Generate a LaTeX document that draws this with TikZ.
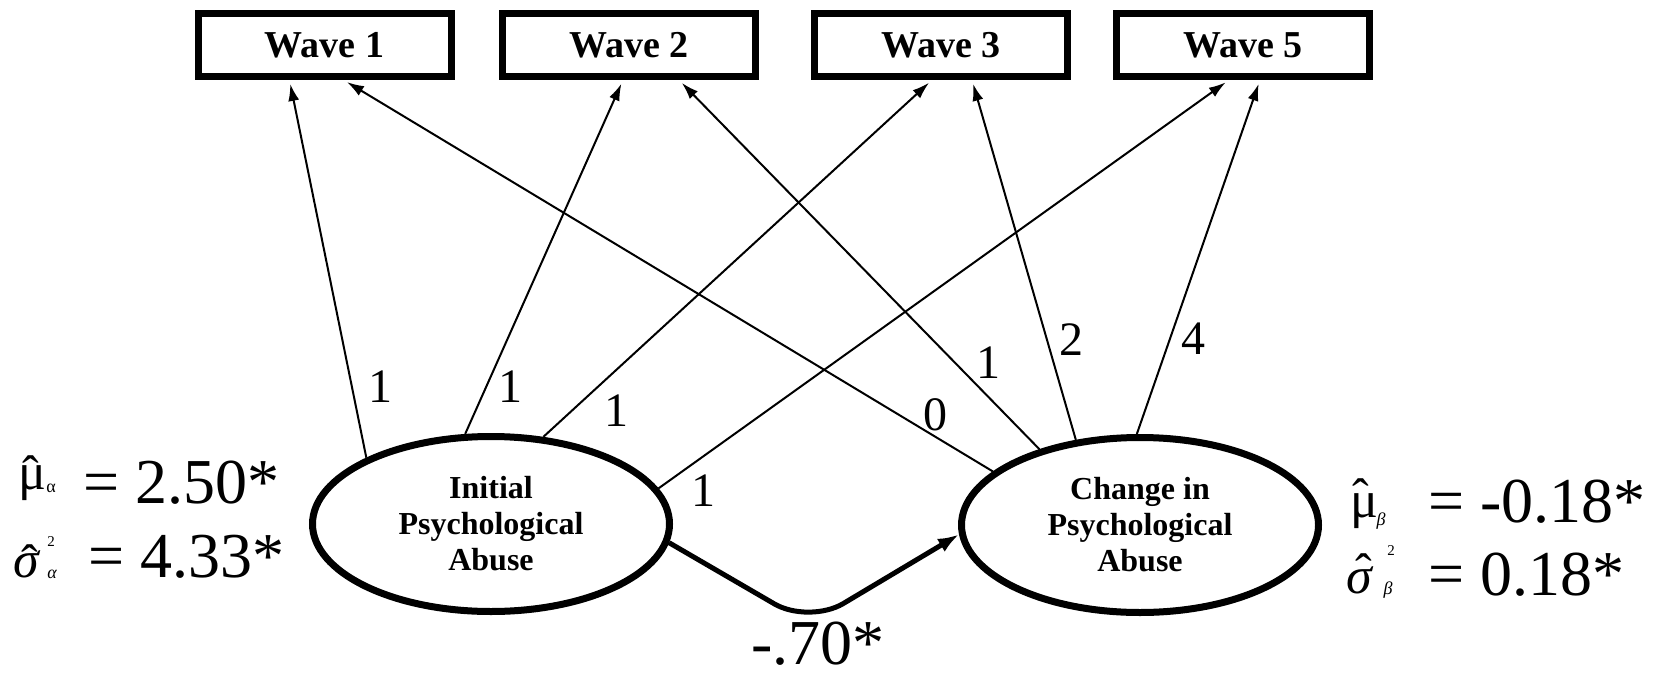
\documentclass[tikz,border=0pt]{standalone}
\usepackage{fontspec}
\setmainfont{Liberation Serif}
\usetikzlibrary{arrows.meta,shapes.geometric}
\newcommand{\fsz}[1]{\fontsize{#1}{#1}\selectfont}
% symbol with a circumflex placed at a horizontal offset and raised by a given amount
\newcommand{\hatsym}[3]{\makebox[0pt][l]{\hspace{#1}\makebox[0pt]{\raisebox{#2}{\upshape\fsz{50}ˆ}}}#3}
\begin{document}
\begin{tikzpicture}[x=1pt,y=-1pt,
  wavebox/.style={draw, line width=7pt, minimum width=253pt, minimum height=63pt, inner sep=0pt, font=\bfseries\fsz{38}},
  latent/.style={draw, ellipse, line width=7pt, minimum width=357pt, minimum height=175pt, inner sep=0pt, align=center, font=\bfseries\fontsize{32}{36}\selectfont},
  load/.style={line width=2pt, -{Latex[length=17pt,width=11pt]}, shorten >=4pt},
  regr/.style={line width=5pt, -{Latex[length=21pt,width=15pt]}, rounded corners=40pt},
  coef/.style={font=\fsz{48}, inner sep=0pt},
  stat/.style={font=\fsz{64}, inner sep=0pt, anchor=base west},
  sym/.style={font=\fsz{52}, inner sep=0pt, anchor=base west},
  idx/.style={font=\fsz{18}, inner sep=0pt},
  sup/.style={font=\fsz{15}, inner sep=0pt},
]
\useasboundingbox (0,0) rectangle (1656,674);

% observed waves
\node[wavebox] (W1) at (324.5,45) {Wave 1};
\node[wavebox] (W2) at (629,45) {Wave 2};
\node[wavebox] (W3) at (941,45) {Wave 3};
\node[wavebox] (W5) at (1243,45) {Wave 5};

% latent factors
\node[latent] (L) at (491,524) {Initial\\Psychological\\Abuse};
\node[latent] (R) at (1140,525) {Change in\\Psychological\\Abuse};

% loadings of intercept
\draw[load] (L.152) -- ([xshift=-35pt]W1.south);
\draw[load] (L.106) -- ([xshift=-6pt]W2.south);
\draw[load] (L.59) -- ([xshift=-9pt]W3.south);
\draw[load] (L.12) -- ([xshift=-14pt]W5.south);
% loadings of slope
\draw[load] (R.160) -- ([xshift=19pt]W1.south);
\draw[load] (R.143) -- ([xshift=50pt]W2.south);
\draw[load] (R.127) -- ([xshift=31pt]W3.south);
\draw[load] (R.92) -- ([xshift=17pt]W5.south);

% loading labels
\node[coef] (c1) at (380,387) {1};
\node[coef] (c2) at (510,387) {1};
\node[coef] (c3) at (616,411) {1};
\node[coef] (c4) at (703,491) {1};
\node[coef] (d1) at (935,415) {0};
\node[coef] (d2) at (988,363) {1};
\node[coef] (d3) at (1071,340) {2};
\node[coef] (d4) at (1193,339) {4};

% regression path
\coordinate (bend) at (809,624);
\draw[regr] (L.-6) -- (bend) -- (R.183);
\node[font=\fsz{64}, inner sep=0pt, anchor=base] (beta) at (818,664) {-.70*};

% left statistics
\node[sym] (muA) at (18,489) {\hatsym{13pt}{-1pt}{μ}};
\node[idx] (muAs) at (51,488) {α};
\node[stat] (muAv) at (83,503) {= 2.50*};
\node[sym] (sgA) at (13,577) {\hatsym{17pt}{-2pt}{\itshape σ}};
\node[sup] (sgAp) at (51,542) {2};
\node[idx] (sgAs) at (52,574) {\itshape α};
\node[stat] (sgAv) at (88,577) {= 4.33*};

% right statistics
\node[sym] (muB) at (1350,517) {\hatsym{11pt}{4pt}{μ}};
\node[idx] (muBs) at (1381,521) {\itshape β};
\node[stat] (muBv) at (1428,522) {= -0.18*};
\node[sym] (sgB) at (1346,593) {\hatsym{18pt}{5pt}{\itshape σ}};
\node[sup] (sgBp) at (1391,551) {2};
\node[idx] (sgBs) at (1388,590) {\itshape β};
\node[stat] (sgBv) at (1428,595) {= 0.18*};
\end{tikzpicture}
\end{document}
